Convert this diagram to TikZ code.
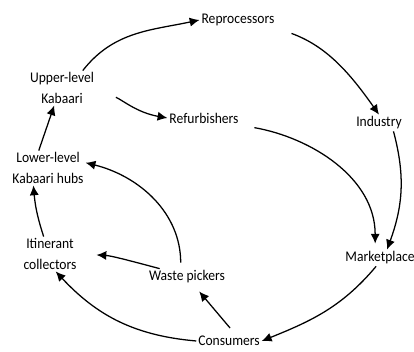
\documentclass[tikz,border=0pt]{standalone}
\usepackage{fontspec}
\setmainfont{Carlito}[FakeStretch=0.92]
\usetikzlibrary{arrows.meta}

\begin{document}
\begin{tikzpicture}[x=0.025cm,y=0.025cm,line width=.9pt,
    actor/.style={inner sep=1pt,align=center,font=\fontsize{10.5}{14.5}\selectfont},
    flow/.style={-{Latex[length=7pt,width=6.5pt]}}]
      \useasboundingbox (0,0) rectangle (414,352);
      \node[actor] (rep) at (238,332) {Reprocessors};
      \node[actor] (upper) at (62,264) {Upper-level\\Kabaari};
      \node[actor] (refurb) at (204,234) {Refurbishers};
      \node[actor] (ind) at (379,229) {Industry};
      \node[actor] (lower) at (48,184) {Lower-level\\Kabaari hubs};
      \node[actor] (itin) at (50,98) {Itinerant\\collectors};
      \node[actor] (waste) at (187,75) {Waste pickers};
      \node[actor] (market) at (380,94) {Marketplace};
      \node[actor] (cons) at (229,11) {Consumers};
      \draw[flow] (upper.40) to[out=52,in=192] (rep.west);
      \draw[flow,shorten <=5.5mm] (upper.east) to[out=-25,in=170] (refurb.west);
      \draw[flow] (lower.118) -- (upper.246);
      \draw[flow,shorten <=4mm] (rep.south east) to[out=-20,in=125] (ind.north);
      \draw[flow] (ind.-30) to[out=-75,in=70] (market.50);
      \draw[flow,shorten <=3.5mm,shorten >=1.5mm] (refurb.south east) to[out=-10,in=90] (market.120);
      \draw[flow] (market.-115) to[out=230,in=22] (cons.east);
      \draw[flow,shorten <=2mm,shorten >=2mm] (cons.48) -- (waste.-50);
      \draw[flow] (cons.west) to[out=175,in=-47] (itin.-72);
      \draw[flow,shorten >=4.5mm] (waste.163) to[out=165,in=-3] (itin.east);
      \draw[flow,shorten <=1.5mm] (waste.127) to[out=90,in=-14] (lower.8);
      \draw[flow] (itin.110) to[out=108,in=-85] (lower.230);
\end{tikzpicture}
\end{document}
